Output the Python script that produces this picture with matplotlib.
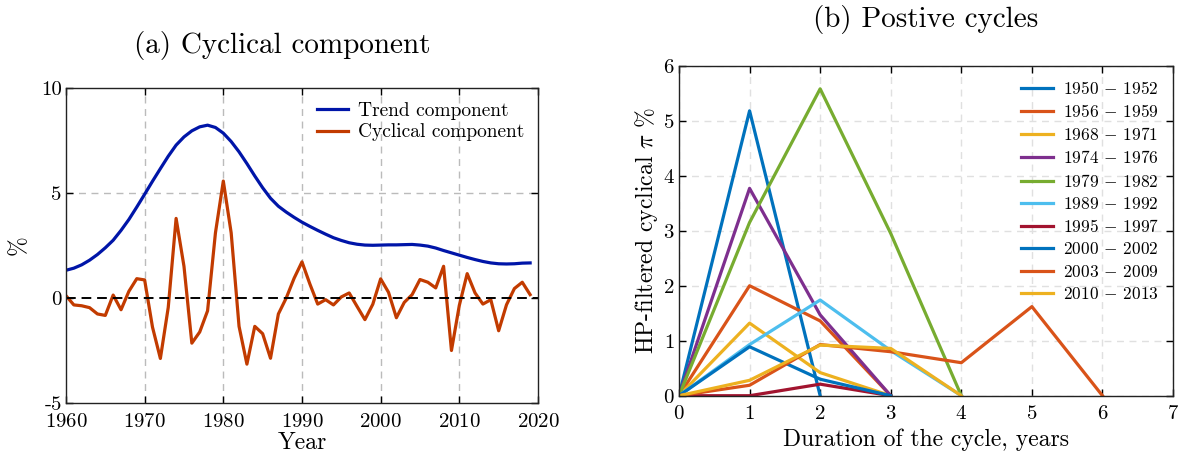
import matplotlib
matplotlib.use("Agg")
import matplotlib.pyplot as plt

plt.rcParams['font.family'] = 'serif'
plt.rcParams['font.serif'] = ['cmr10', 'DejaVu Serif']
plt.rcParams['mathtext.fontset'] = 'cm'
plt.rcParams['axes.formatter.use_mathtext'] = True
plt.rcParams['axes.unicode_minus'] = False

# ---------- Panel (a) data ----------
years = list(range(1960, 2020))
cyclical = [0.11, -0.33, -0.37, -0.46, -0.76, -0.83, 0.14, -0.56, 0.32, 0.92,
            0.86, -1.39, -2.88, -0.45, 3.79, 1.51, -2.15, -1.62, -0.61, 3.10,
            5.57, 3.10, -1.35, -3.15, -1.35, -1.70, -2.87, -0.76, 0.00, 0.94,
            1.72, 0.67, -0.29, -0.08, -0.33, 0.05, 0.24, -0.40, -1.03, -0.30,
            0.91, 0.27, -0.94, -0.21, 0.16, 0.88, 0.75, 0.48, 1.51, -2.50,
            -0.35, 1.16, 0.24, -0.29, -0.08, -1.56, -0.32, 0.45, 0.75, 0.16]
trend = [1.32, 1.42, 1.58, 1.80, 2.07, 2.39, 2.75, 3.22, 3.74, 4.33,
         4.94, 5.56, 6.16, 6.75, 7.28, 7.67, 7.96, 8.15, 8.23, 8.12,
         7.85, 7.45, 6.96, 6.40, 5.81, 5.25, 4.75, 4.37, 4.09, 3.84,
         3.61, 3.41, 3.22, 3.04, 2.87, 2.74, 2.63, 2.56, 2.52, 2.51,
         2.52, 2.53, 2.53, 2.54, 2.55, 2.52, 2.47, 2.38, 2.26, 2.15,
         2.04, 1.93, 1.83, 1.74, 1.67, 1.63, 1.62, 1.63, 1.66, 1.67]
xticks_a = [1960, 1970, 1980, 1990, 2000, 2010, 2020]
yticks_a = [-5, 0, 5, 10]
yticklabels_a = ['-5', '0', '5', '10']

# ---------- Panel (b) data ----------
cycle_labels = ['1950 $-$ 1952', '1956 $-$ 1959', '1968 $-$ 1971', '1974 $-$ 1976',
                '1979 $-$ 1982', '1989 $-$ 1992', '1995 $-$ 1997', '2000 $-$ 2002',
                '2003 $-$ 2009', '2010 $-$ 2013']
cycle_values = [
    [0, 5.18, 0],
    [0, 2.00, 1.36, 0],
    [0, 1.32, 0.42, 0],
    [0, 3.77, 1.47, 0],
    [0, 3.15, 5.58, 2.95, 0],
    [0, 0.93, 1.74, 0.82, 0],
    [0, 0.0, 0.21, 0],
    [0, 0.89, 0.30, 0],
    [0, 0.19, 0.93, 0.80, 0.60, 1.62, 0],
    [0, 0.28, 0.92, 0.86, 0],
]
cycle_colors = ['#0072BD', '#D95319', '#EDB120', '#7E2F8E', '#77AC30',
                '#4DBEEE', '#A2142F', '#0072BD', '#D95319', '#EDB120']

fig = plt.figure(figsize=(11.78, 4.55), dpi=100)
axa = fig.add_axes([0.056, 0.1143, 0.4007, 0.6923])
axb = fig.add_axes([0.5764, 0.1303, 0.4194, 0.7253])

# Panel (a)
axa.plot(years, trend, color='#0015A8', lw=2.3, label='Trend component')
axa.plot(years, cyclical, color='#C23B00', lw=2.3, label='Cyclical component')
axa.axhline(0, color='black', lw=1.4, ls=(0, (5, 3)))
axa.set_xlim(1960, 2020)
axa.set_ylim(-5, 10)
axa.set_xticks(xticks_a)
axa.set_yticks(yticks_a)
axa.set_yticklabels(yticklabels_a)
for x in xticks_a[1:-1]:
    axa.axvline(x, color='#BBBBBB', lw=1.0, ls=(0, (5, 4)), zorder=0)
axa.axhline(5, color='#BBBBBB', lw=1.0, ls=(0, (5, 4)), zorder=0)
axa.set_xlabel('Year', fontsize=17, labelpad=1)
axa.set_ylabel('%', fontsize=17, labelpad=8)
axa.set_title('(a) Cyclical component', fontsize=21, pad=25, x=0.458)
axa.legend(loc='upper right', bbox_to_anchor=(1.0, 1.0), frameon=False, fontsize=14,
           handlelength=1.6, handletextpad=0.5, borderaxespad=0.3, labelspacing=0.2)

# Panel (b)
for lab, vals, c in zip(cycle_labels, cycle_values, cycle_colors):
    axb.plot(range(len(vals)), vals, color=c, lw=2.3, label=lab)
axb.set_xlim(0, 7)
axb.set_ylim(0, 6)
axb.set_xticks(range(0, 8))
axb.set_yticks(range(0, 7))
axb.grid(True, color='#E0E0E0', lw=1.0, ls=(0, (5, 4)))
axb.set_axisbelow(True)
axb.set_xlabel('Duration of the cycle, years', fontsize=17, labelpad=4)
axb.set_ylabel(r'HP-filtered cyclical $\pi$ %', fontsize=17, labelpad=2)
axb.set_title('(b) Postive cycles', fontsize=21, pad=28)
axb.legend(loc='upper right', bbox_to_anchor=(1.0, 1.0), frameon=False, fontsize=12.5,
           handlelength=1.8, handletextpad=0.6, borderaxespad=0.4, labelspacing=0.36)

for ax in (axa, axb):
    ax.tick_params(direction='in', top=True, right=True, labelsize=15, length=5,
                   width=1.0)
    ax.tick_params(axis='x', pad=7)
    ax.tick_params(axis='y', pad=3)
    for s in ax.spines.values():
        s.set_linewidth(1.0)
        s.set_color('#222222')

fig.savefig('out.png', dpi=100)
